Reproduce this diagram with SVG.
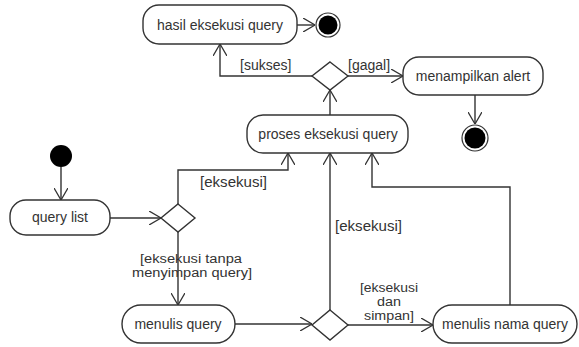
<svg xmlns="http://www.w3.org/2000/svg" width="579" height="347" viewBox="0 0 579 347">
<style>
.n{fill:#fff;stroke:#333;stroke-width:1.4}
.t{font-family:"Liberation Sans",Arial,sans-serif;font-size:14px;fill:#333;text-anchor:middle}
.l{font-family:"Liberation Sans",Arial,sans-serif;font-size:14px;fill:#333}
.m{font-family:"Liberation Sans",Arial,sans-serif;font-size:12px;fill:#333;text-anchor:middle}
.c{fill:none;stroke:#333;stroke-width:1.4}
</style>
<defs>
<marker id="a" viewBox="0 0 12 14" refX="12" refY="7" markerWidth="12" markerHeight="14" markerUnits="userSpaceOnUse" orient="auto">
<path d="M0,0 L12,7 L0,14" fill="none" stroke="#333" stroke-width="1.3"/>
</marker>
</defs>
<rect width="579" height="347" fill="#fff"/>
<g id="connectors">
<path class="c" d="M297,25 H315" marker-end="url(#a)"/>
<path class="c" d="M312,76 H220 V44" marker-end="url(#a)"/>
<path class="c" d="M348,76 H403" marker-end="url(#a)"/>
<path class="c" d="M475,95 V124" marker-end="url(#a)"/>
<path class="c" d="M330,115 V90" marker-end="url(#a)"/>
<path class="c" d="M61,167 V200" marker-end="url(#a)"/>
<path class="c" d="M110,218 H161" marker-end="url(#a)"/>
<path class="c" d="M178,204 V170 H288 V153" marker-end="url(#a)"/>
<path class="c" d="M178,232 V305" marker-end="url(#a)"/>
<path class="c" d="M235,324 H312" marker-end="url(#a)"/>
<path class="c" d="M330,310 V153" marker-end="url(#a)"/>
<path class="c" d="M348,325 H433" marker-end="url(#a)"/>
<path class="c" d="M510,305 V187 H372 V153" marker-end="url(#a)"/>
<text class="l" x="240" y="70">[sukses]</text>
<text class="l" x="348" y="70">[gagal]</text>
<text class="l" x="200" y="187" textLength="67" lengthAdjust="spacingAndGlyphs">[eksekusi]</text>
<text class="m" x="191" y="263" textLength="102" lengthAdjust="spacingAndGlyphs">[eksekusi tanpa</text>
<text class="m" x="192" y="277" textLength="120" lengthAdjust="spacingAndGlyphs">menyimpan query]</text>
<text class="l" x="335" y="231" textLength="67" lengthAdjust="spacingAndGlyphs">[eksekusi]</text>
<text class="m" x="389" y="292" textLength="58" lengthAdjust="spacingAndGlyphs">[eksekusi</text>
<text class="m" x="389" y="306" textLength="24" lengthAdjust="spacingAndGlyphs">dan</text>
<text class="m" x="389" y="320" textLength="50" lengthAdjust="spacingAndGlyphs">simpan]</text>
</g>
<g id="hasil"><rect class="n" x="143" y="5" width="154" height="39" rx="16"/><text class="t" x="220" y="30">hasil eksekusi query</text></g>
<g id="final1"><circle cx="328" cy="25" r="12" fill="#fff" stroke="#333" stroke-width="1.2"/><circle cx="328" cy="25" r="9.5" fill="#000"/></g>
<g id="dec1"><polygon class="n" points="330,62 348,76 330,90 312,76"/></g>
<g id="alert"><rect class="n" x="403" y="57" width="140" height="38" rx="16"/><text class="t" x="473" y="81">menampilkan alert</text></g>
<g id="final2"><circle cx="475" cy="138" r="13" fill="#fff" stroke="#333" stroke-width="1.2"/><circle cx="475" cy="138" r="10.5" fill="#000"/></g>
<g id="proses"><rect class="n" x="247" y="115" width="161" height="38" rx="16"/><text class="t" x="328" y="139">proses eksekusi query</text></g>
<g id="start"><circle cx="61" cy="156" r="11" fill="#000"/></g>
<g id="querylist"><rect class="n" x="10" y="200" width="100" height="35" rx="16"/><text class="t" x="60" y="222">query list</text></g>
<g id="dec2"><polygon class="n" points="178,204 195,218 178,232 161,218"/></g>
<g id="menulis"><rect class="n" x="122" y="305" width="113" height="38" rx="19"/><text class="t" x="178" y="329">menulis query</text></g>
<g id="dec3"><polygon class="n" points="330,310 348,325 330,340 312,325"/></g>
<g id="nama"><rect class="n" x="433" y="305" width="144" height="38" rx="19"/><text class="t" x="505" y="329">menulis nama query</text></g>
</svg>
